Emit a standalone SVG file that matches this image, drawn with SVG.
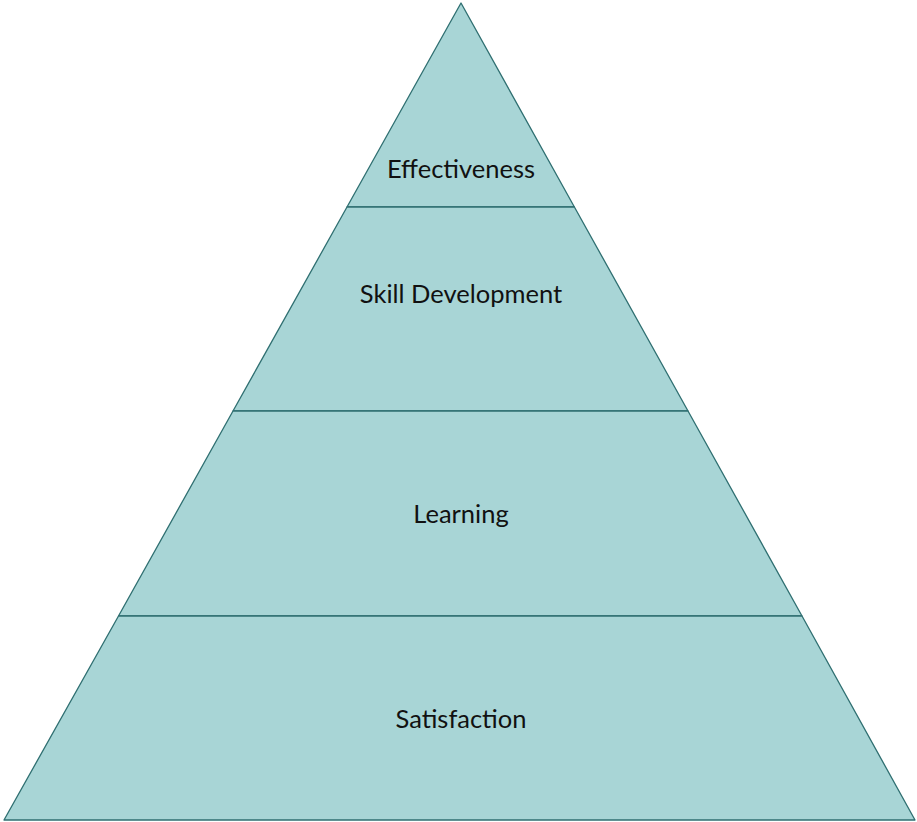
<svg xmlns="http://www.w3.org/2000/svg" width="917" height="822" viewBox="0 0 917 822">
<style>
.band{fill:#A8D5D6;stroke:#2F6F71;stroke-width:1.3;stroke-linejoin:round}
.lbl{font-family:Lato,"Open Sans","Liberation Sans",sans-serif;font-size:25.5px;fill:#111;text-anchor:middle}
</style>
<rect width="917" height="822" fill="#fff"/>
<g id="effectiveness">
<polygon class="band" points="461,3 574.4,207 347,207"/>
<text class="lbl" x="461" y="178">Effectiveness</text>
</g>
<g id="skill-development">
<polygon class="band" points="347,207 574.4,207 688,411 233,411"/>
<text class="lbl" x="461" y="303">Skill Development</text>
</g>
<g id="learning">
<polygon class="band" points="233,411 688,411 802,616 118.5,616"/>
<text class="lbl" x="461" y="523">Learning</text>
</g>
<g id="satisfaction">
<polygon class="band" points="118.5,616 802,616 915,820 4,820"/>
<text class="lbl" x="461" y="728">Satisfaction</text>
</g>
</svg>
